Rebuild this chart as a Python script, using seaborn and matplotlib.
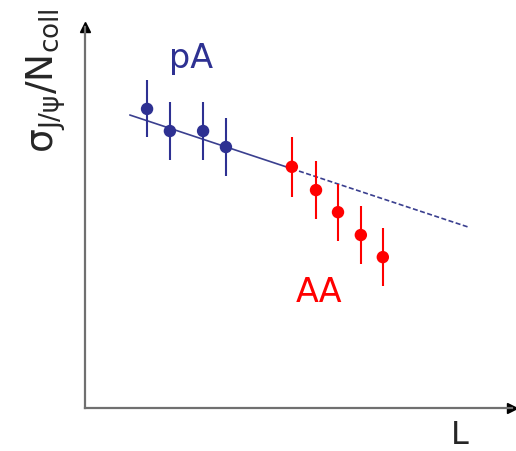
import numpy as np
import pandas as pd
import seaborn as sns
import matplotlib.pyplot as plt

# 数据（任意单位）
pA_L = [1.44, 1.97, 2.74, 3.27]
pA_y = [7.85, 7.27, 7.27, 6.85]
pA_err = [0.75, 0.76, 0.75, 0.76]

AA_L = [4.80, 5.36, 5.87, 6.40, 6.91]
AA_y = [6.33, 5.72, 5.14, 4.54, 3.96]
AA_err = [0.79, 0.75, 0.75, 0.75, 0.77]

fit_solid_L = [1.04, 4.80]
fit_solid_y = [7.69, 6.28]
fit_dash_L = [4.80, 8.89]
fit_dash_y = [6.28, 4.75]

blue = "#2e3192"
red = "#ff0000"
line_c = "#3a3f8f"

sns.set_style("white")
plt.rcParams['font.family'] = ['DejaVu Sans']
plt.rcParams['mathtext.fontset'] = 'dejavusans'
plt.rcParams['mathtext.default'] = 'regular'

fig = plt.figure(figsize=(5.16, 4.52), dpi=100)
ax = fig.add_axes([85 / 516, 43 / 452, 427 / 516, 381 / 452])
ax.set_xlim(0, 10 * 427 / 431)
ax.set_ylim(0, 10)

# 拟合线
sns.lineplot(x=fit_solid_L, y=fit_solid_y, color=line_c, lw=1.2, ax=ax)
sns.lineplot(x=fit_dash_L, y=fit_dash_y, color=line_c, lw=1.2, ax=ax,
             dashes=False)
ax.lines[-1].set_dashes((3, 1.5))

# 误差棒
ax.errorbar(pA_L, pA_y, yerr=pA_err, fmt='none', ecolor=blue, elinewidth=1.5)
ax.errorbar(AA_L, AA_y, yerr=AA_err, fmt='none', ecolor=red, elinewidth=1.5)

df = pd.DataFrame({'L': pA_L + AA_L, 'y': pA_y + AA_y,
                   'sys': ['pA'] * len(pA_L) + ['AA'] * len(AA_L)})
sns.scatterplot(data=df, x='L', y='y', hue='sys',
                palette={'pA': blue, 'AA': red}, s=80, edgecolor='none',
                legend=False, ax=ax, zorder=3)

ax.text(2.45, 8.95, 'pA', color=blue, fontsize=24, ha='center', va='baseline')
ax.text(5.42, 2.81, 'AA', color=red, fontsize=24, ha='center', va='baseline')

# 坐标轴样式
for s in ['top', 'right']:
    ax.spines[s].set_visible(False)
for s in ['left', 'bottom']:
    ax.spines[s].set_color('#707070')
    ax.spines[s].set_linewidth(1.6)
ax.set_xticks([])
ax.set_yticks([])
ax.set_xlabel('')
ax.set_ylabel('')
ax.plot(1, 0, '>k', ms=7, transform=ax.transAxes, clip_on=False)
ax.plot(0, 1, '^k', ms=7, transform=ax.transAxes, clip_on=False)

fig.text(46 / 516, 1 - 8 / 452, r'$\sigma_{J/\psi}/N_{coll}$', rotation=90,
         fontsize=27, ha='center', va='top')
fig.text(460 / 516, 1 / 452, 'L', fontsize=23, ha='center', va='bottom')

plt.savefig('out.png', dpi=100)
